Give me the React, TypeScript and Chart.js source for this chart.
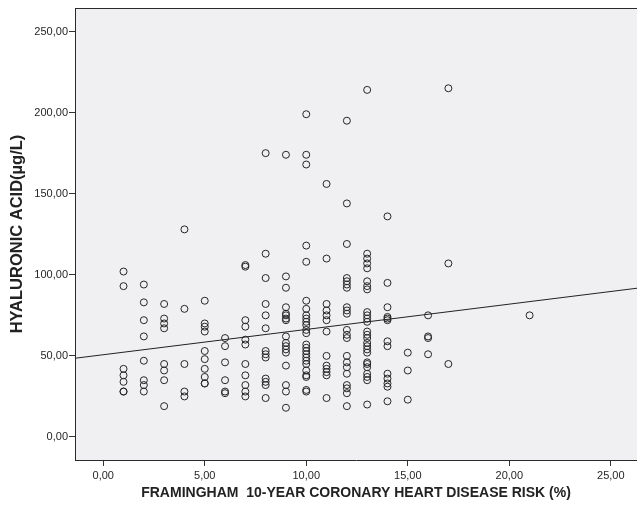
import React, { useEffect, useRef } from "react";
import { Chart, registerables } from "chart.js";

Chart.register(...registerables);

// Framingham 10-year CHD risk (%) levels (x) and hyaluronic acid values (µg/L) at each level
const riskLevels = [1, 2, 3, 4, 5, 6, 7, 8, 9, 10, 11, 12, 13, 14, 15, 16, 17, 21];
const acidAtRisk: number[][] = [
  [102, 93, 42, 38, 34, 28, 28],
  [94, 83, 72, 62, 47, 35, 32, 28],
  [82, 73, 70, 67, 45, 41, 35, 19],
  [128, 79, 45, 28, 25],
  [84, 70, 68, 65, 53, 48, 42, 37, 33, 33],
  [61, 56, 46, 35, 28, 27],
  [106, 105, 72, 68, 60, 57, 45, 38, 32, 28, 25],
  [175, 113, 98, 82, 75, 67, 53, 51, 49, 36, 34, 32, 24],
  [174, 99, 92, 80, 76, 75, 73, 72, 62, 58, 56, 54, 52, 44, 32, 28, 18],
  [199, 174, 168, 118, 108, 84, 79, 75, 73, 71, 69, 66, 64, 57, 55, 53, 51, 49, 47, 45, 41, 38, 37, 29, 28],
  [156, 110, 82, 78, 75, 72, 65, 50, 44, 42, 40, 38, 24],
  [195, 144, 119, 98, 96, 94, 92, 80, 78, 76, 66, 63, 61, 50, 46, 43, 39, 32, 30, 27, 19],
  [214, 113, 110, 107, 104, 96, 93, 91, 77, 75, 73, 71, 65, 63, 61, 58, 56, 54, 52, 46, 45, 43, 39, 37, 35, 20],
  [136, 95, 80, 74, 73, 72, 59, 56, 39, 36, 33, 31, 22],
  [52, 41, 23],
  [75, 62, 61, 51],
  [215, 107, 45],
  [75],
];

// Linear fit line
const fitIntercept = 50.7;
const fitSlope = 1.56;

const xTickValues = [0, 5, 10, 15, 20, 25];
const yTickValues = [0, 50, 100, 150, 200, 250];
const xRange = [-1.39, 26.29];
const yRange = [-14.2, 264.5];

const xTitle = "FRAMINGHAM  10-YEAR CORONARY HEART DISEASE RISK (%)";
const yTitle = "HYALURONIC ACID(µg/L)";

const fmt = (v: number) => v.toFixed(2).replace(".", ",");

const plotFrame = {
  id: "plotFrame",
  beforeDraw(chart: any) {
    const { ctx, chartArea } = chart;
    ctx.save();
    ctx.fillStyle = "#f0f0f2";
    ctx.fillRect(chartArea.left, chartArea.top, chartArea.right - chartArea.left, chartArea.bottom - chartArea.top);
    ctx.restore();
  },
  afterDraw(chart: any) {
    const { ctx, chartArea } = chart;
    ctx.save();
    ctx.strokeStyle = "#2a2a2a";
    ctx.lineWidth = 1;
    ctx.beginPath();
    ctx.moveTo(chartArea.left, Math.round(chartArea.top) + 0.5);
    ctx.lineTo(chartArea.right, Math.round(chartArea.top) + 0.5);
    ctx.stroke();
    ctx.restore();
  },
};

export default function App() {
  const canvasRef = useRef<HTMLCanvasElement | null>(null);

  useEffect(() => {
    if (!canvasRef.current) return;
    const points: { x: number; y: number }[] = [];
    riskLevels.forEach((r, i) => {
      acidAtRisk[i].forEach((v) => points.push({ x: r, y: v }));
    });
    const fitPoints = xRange.map((x) => ({ x, y: fitIntercept + fitSlope * x }));

    const tickFont = { family: "'Liberation Sans', Arial, sans-serif", size: 11 };
    const xTitleFont = { family: "'Liberation Sans', Arial, sans-serif", size: 14, weight: "bold" as const };
    const yTitleFont = { family: "'Liberation Sans', Arial, sans-serif", size: 16.5, weight: "bold" as const };

    const chart = new Chart(canvasRef.current, {
      type: "scatter",
      data: {
        datasets: [
          {
            data: points,
            pointRadius: 3.5,
            pointHoverRadius: 3.5,
            pointBorderWidth: 1,
            pointBorderColor: "#262626",
            pointBackgroundColor: "rgba(0,0,0,0)",
            showLine: false,
          },
          {
            data: fitPoints,
            showLine: true,
            pointRadius: 0,
            borderColor: "#222222",
            borderWidth: 1,
          },
        ],
      },
      options: {
        animation: false,
        responsive: false,
        devicePixelRatio: 1,
        layout: { autoPadding: false, padding: { top: 8, left: 0, right: 0, bottom: 0 } },
        plugins: {
          legend: { display: false },
          tooltip: { enabled: false },
        },
        scales: {
          x: {
            type: "linear",
            min: xRange[0],
            max: xRange[1],
            afterBuildTicks: (scale: any) => {
              scale.ticks = xTickValues.map((v) => ({ value: v }));
            },
            afterFit: (scale: any) => {
              scale.height = 48;
            },
            ticks: {
              callback: (v: any) => fmt(Number(v)),
              font: tickFont,
              color: "#262626",
              padding: 3,
              maxRotation: 0,
              autoSkip: false,
            },
            grid: { drawOnChartArea: false, drawTicks: true, tickLength: 6, color: "#333333", lineWidth: 1 },
            border: { display: true, color: "#2a2a2a", width: 1 },
            title: {
              display: true,
              text: xTitle,
              font: xTitleFont,
              color: "#222222",
              padding: { top: 0, bottom: 6 },
            },
          },
          y: {
            type: "linear",
            min: yRange[0],
            max: yRange[1],
            afterBuildTicks: (scale: any) => {
              scale.ticks = yTickValues.map((v) => ({ value: v }));
            },
            afterFit: (scale: any) => {
              scale.width = 75;
            },
            ticks: {
              callback: (v: any) => fmt(Number(v)),
              font: tickFont,
              color: "#262626",
              padding: 1,
              autoSkip: false,
            },
            grid: { drawOnChartArea: false, drawTicks: true, tickLength: 6, color: "#333333", lineWidth: 1 },
            border: { display: true, color: "#2a2a2a", width: 1 },
            title: {
              display: true,
              text: yTitle,
              font: yTitleFont,
              color: "#222222",
              padding: { top: 8, bottom: 0 },
            },
          },
        },
      },
      plugins: [plotFrame],
    });
    return () => chart.destroy();
  }, []);

  return (
    <div style={{ position: "absolute", left: 0, top: 0, width: 637, height: 508, background: "#ffffff" }}>
      <canvas ref={canvasRef} width={637} height={508} style={{ width: 637, height: 508, display: "block" }} />
    </div>
  );
}
